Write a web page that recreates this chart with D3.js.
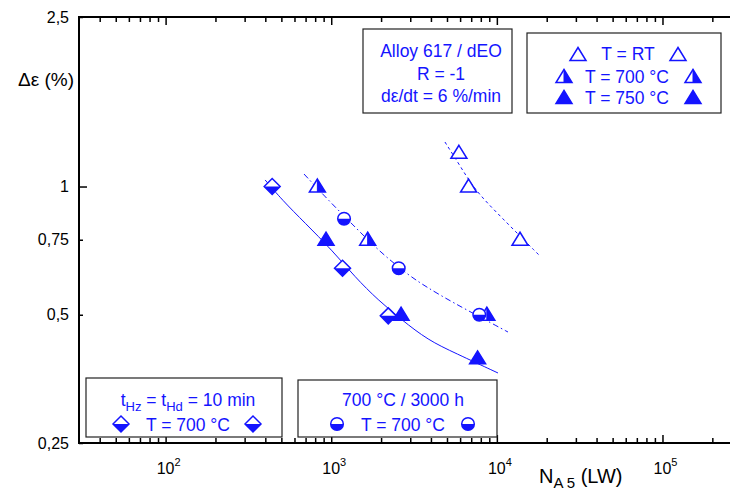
<!DOCTYPE html>
<html>
<head>
<meta charset="utf-8">
<script src="https://cdn.jsdelivr.net/npm/d3@7"></script>
<style>
  html, body { margin: 0; padding: 0; background: #fff; }
  svg { display: block; font-family: "Liberation Sans", Arial, sans-serif; }
</style>
</head>
<body>
<svg id="chart" width="730" height="491"></svg>
<script>
// Low-cycle fatigue data, Alloy 617: strain range (%) vs. cycles to failure N_A5
const rtN = [5900, 6750, 13800];
const rtV = [1.2, 1.0, 0.75];
const t700N = [825, 1660, 8700];
const t700V = [1.0, 0.75, 0.5];
const t750N = [930, 2640, 7650];
const t750V = [0.75, 0.5, 0.395];
const holdN = [440, 1170, 2210];
const holdV = [1.0, 0.643, 0.497];
const agedN = [1195, 2555, 7830];
const agedV = [0.84, 0.643, 0.5];

// Fitted trend curves
const fitRtN = [4860, 6070, 7380, 10440, 18200];
const fitRtV = [1.272, 1.11, 0.98, 0.853, 0.687];
const fit700N = [685, 957, 1354, 1916, 2908, 3838, 5358, 9740, 11670];
const fit700V = [1.07, 0.93, 0.8125, 0.709, 0.62, 0.578, 0.5357, 0.473, 0.4555];
const fit750N = [399, 505, 695, 1011, 1392, 1916, 2673, 3838, 5585, 10160];
const fit750V = [1.036, 0.93, 0.821, 0.709, 0.613, 0.5415, 0.486, 0.436, 0.4067, 0.365];

// Axis ticks
const yTicks = [2.5, 1, 0.75, 0.5, 0.25];
const yTickLabels = ["2,5", "1", "0,75", "0,5", "0,25"];
const xMajor = [100, 1000, 10000, 100000];
const xMajorExp = ["2", "3", "4", "5"];

const BLUE = "#1414ff";
const svg = d3.select("#chart");

const x = d3.scaleLog().domain([30, 300000]).range([79, 741.5]);
const y = d3.scaleLog().domain([0.25, 2.5]).range([443, 17]);

// minor x ticks 2..9 per decade
const xMinor = [];
for (let d = 10; d <= 100000; d *= 10) {
  for (let k = 2; k <= 9; k++) {
    const v = k * d;
    if (v > 30 && v < 300000) xMinor.push(v);
  }
}

// ---- axes ----
const axes = svg.append("g");
function tickAxis(gen, vals, size, ty) {
  const g = axes.append("g").attr("transform", `translate(0,${ty})`)
    .call(gen(x).tickValues(vals).tickSize(size).tickFormat(""));
  g.select(".domain").remove();
  g.selectAll("line").attr("stroke", "#000").attr("stroke-width", 1.5);
  return g;
}
tickAxis(d3.axisBottom, xMajor, -8, 443);
tickAxis(d3.axisBottom, xMinor, -5, 443);
tickAxis(d3.axisTop, xMajor, -8, 17);
tickAxis(d3.axisTop, xMinor, -5, 17);

const yAx = axes.append("g").attr("transform", "translate(79,0)")
  .call(d3.axisLeft(y).tickValues(yTicks).tickSize(0).tickFormat(""));
yAx.select(".domain").remove();
yAx.selectAll(".tick").append("line")
  .attr("x1", 0).attr("x2", d => d === 1 ? 8 : 4)
  .attr("stroke", "#000").attr("stroke-width", 1.5);

// axis lines
axes.append("line").attr("x1", 79).attr("x2", 730).attr("y1", 443).attr("y2", 443)
  .attr("stroke", "#000").attr("stroke-width", 2);
axes.append("line").attr("x1", 79).attr("x2", 730).attr("y1", 17).attr("y2", 17)
  .attr("stroke", "#000").attr("stroke-width", 2);
axes.append("line").attr("x1", 79).attr("x2", 79).attr("y1", 16).attr("y2", 444)
  .attr("stroke", "#000").attr("stroke-width", 2);

// y tick labels
svg.append("g").selectAll("text").data(yTicks).join("text")
  .attr("x", 69).attr("y", d => y(d)).attr("dy", "0.35em")
  .attr("text-anchor", "end").attr("font-size", 16)
  .text((d, i) => yTickLabels[i]);

// x tick labels 10^n
const xl = svg.append("g").selectAll("text").data(xMajor).join("text")
  .attr("x", d => x(d) + 3).attr("y", 474).attr("text-anchor", "middle")
  .attr("font-size", 16);
xl.append("tspan").text("10");
xl.append("tspan").attr("dy", -8).attr("font-size", 11).text((d, i) => xMajorExp[i]);

// axis titles
svg.append("text").attr("x", 18).attr("y", 86).attr("font-size", 19)
  .text("\u0394\u03b5 (%)");

const xt = svg.append("text").attr("x", 539).attr("y", 483).attr("font-size", 20);
xt.append("tspan").text("N");
xt.append("tspan").attr("dy", 5).attr("font-size", 15).text("A 5");
xt.append("tspan").attr("dy", -5).text(" (LW)");

// ---- fit curves ----
const line = d3.line().x(d => x(d[0])).y(d => y(d[1])).curve(d3.curveBasis);
const zip = (a, b) => a.map((v, i) => [v, b[i]]);
const curves = svg.append("g").attr("fill", "none").attr("stroke", BLUE).attr("stroke-width", 1);
curves.append("path").attr("d", line(zip(fit750N, fit750V)));
curves.append("path").attr("d", line(zip(fit700N, fit700V))).attr("stroke-dasharray", "6,3,1.5,3");
curves.append("path").attr("d", line(zip(fitRtN, fitRtV))).attr("stroke-dasharray", "3,3");

// ---- marker shapes ----
function triPts(s) { // s: half width; apex up
  return [[0, -7.5], [s, 5.5], [-s, 5.5]];
}
function drawTriangle(g, cx, cy, kind) {
  const s = 8;
  const pts = triPts(s).map(q => [cx + q[0], cy + q[1]]);
  const grp = g.append("g");
  if (kind === "half") {
    grp.append("polygon").attr("points", pts.map(q => q.join(",")).join(" ")).attr("fill", "#fff");
    grp.append("polygon")
      .attr("points", [[cx, pts[0][1]], pts[1], [cx, pts[1][1]]].map(q => q.join(",")).join(" "))
      .attr("fill", BLUE);
  }
  grp.append("polygon").attr("points", pts.map(q => q.join(",")).join(" "))
    .attr("fill", kind === "full" ? BLUE : (kind === "half" ? "none" : "#fff"))
    .attr("stroke", BLUE).attr("stroke-width", 1.5).attr("stroke-linejoin", "miter");
  if (kind === "half") {
    grp.append("line").attr("x1", cx).attr("x2", cx).attr("y1", pts[0][1]).attr("y2", pts[1][1])
      .attr("stroke", BLUE).attr("stroke-width", 1);
  }
}
function drawDiamond(g, cx, cy) {
  const r = 8;
  const grp = g.append("g");
  const full = `${cx - r},${cy} ${cx},${cy - r} ${cx + r},${cy} ${cx},${cy + r}`;
  grp.append("polygon").attr("points", full).attr("fill", "#fff");
  grp.append("polygon").attr("points", `${cx - r},${cy} ${cx + r},${cy} ${cx},${cy + r}`)
    .attr("fill", BLUE);
  grp.append("polygon").attr("points", full)
    .attr("fill", "none").attr("stroke", BLUE).attr("stroke-width", 1.5);
}
function drawHalfCircle(g, cx, cy) {
  const r = 6.3;
  const grp = g.append("g");
  grp.append("circle").attr("cx", cx).attr("cy", cy).attr("r", r).attr("fill", "#fff");
  grp.append("path")
    .attr("d", `M${cx - r},${cy} A${r},${r} 0 0 0 ${cx + r},${cy} Z`).attr("fill", BLUE);
  grp.append("circle").attr("cx", cx).attr("cy", cy).attr("r", r)
    .attr("fill", "none").attr("stroke", BLUE).attr("stroke-width", 1.5);
}

// ---- data markers ----
const marks = svg.append("g");
holdN.forEach((n, i) => drawDiamond(marks, x(n), y(holdV[i])));
t750N.forEach((n, i) => drawTriangle(marks, x(n), y(t750V[i]), "full"));
t700N.forEach((n, i) => drawTriangle(marks, x(n), y(t700V[i]), "half"));
agedN.forEach((n, i) => drawHalfCircle(marks, x(n), y(agedV[i])));
rtN.forEach((n, i) => drawTriangle(marks, x(n), y(rtV[i]), "open"));

// ---- legend boxes ----
const leg = svg.append("g");
function box(x0, y0, x1, y1) {
  leg.append("rect").attr("x", x0).attr("y", y0).attr("width", x1 - x0).attr("height", y1 - y0)
    .attr("fill", "#fff").attr("stroke", "#222").attr("stroke-width", 1.2);
}
function label(tx, ty, str, anchor) {
  return leg.append("text").attr("x", tx).attr("y", ty).attr("font-size", 17.5)
    .attr("fill", BLUE).attr("text-anchor", anchor || "middle").text(str);
}

// conditions
box(363, 29, 512, 113);
label(441, 57, "Alloy 617 / dEO");
label(441, 80, "R = -1");
label(441, 102, "d\u03b5/dt = 6 %/min");

// temperature legend
box(527, 33, 721, 113);
label(628, 60, "T = RT");
drawTriangle(leg, 578, 55, "open");
drawTriangle(leg, 678, 55, "open");
label(627, 83, "T = 700 \u00b0C");
drawTriangle(leg, 564, 77, "half");
drawTriangle(leg, 693, 77, "half");
label(627, 104, "T = 750 \u00b0C");
drawTriangle(leg, 564, 98, "full");
drawTriangle(leg, 693, 98, "full");

// hold-time legend
box(86, 378, 282, 437);
const th = leg.append("text").attr("x", 188).attr("y", 406).attr("font-size", 17.5)
  .attr("fill", BLUE).attr("text-anchor", "middle");
th.append("tspan").text("t");
th.append("tspan").attr("dy", 5).attr("font-size", 13).text("Hz");
th.append("tspan").attr("dy", -5).text(" = t");
th.append("tspan").attr("dy", 5).attr("font-size", 13).text("Hd");
th.append("tspan").attr("dy", -5).text(" = 10 min");
label(188, 431, "T = 700 \u00b0C");
drawDiamond(leg, 121, 424);
drawDiamond(leg, 253, 424);

// aged legend
box(298, 380, 497, 437);
label(403, 406, "700 \u00b0C / 3000 h");
label(403, 431, "T = 700 \u00b0C");
drawHalfCircle(leg, 337, 424);
drawHalfCircle(leg, 468, 424);
</script>
</body>
</html>
